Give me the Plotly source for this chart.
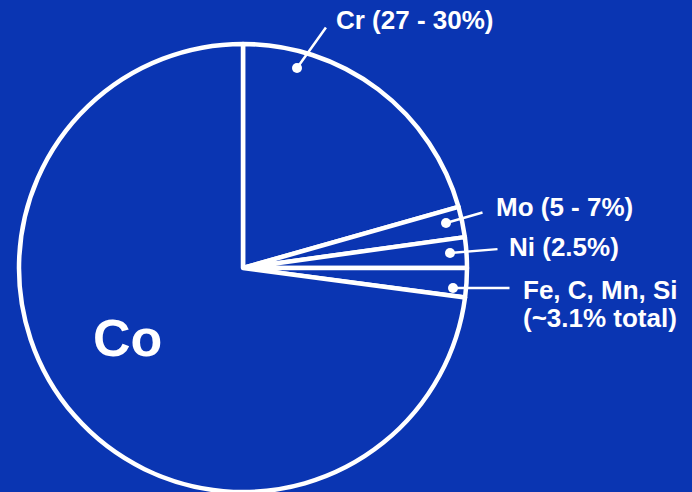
import plotly.graph_objects as go

W, H = 692, 492
BG = "#0A35B2"

elements = ["Cr", "Mo", "Ni", "Fe, C, Mn, Si", "Co"]
shares = [20.6, 2.2, 2.2, 2.1, 72.9]   # shares as drawn (angles)

label_texts = ["Cr (27 - 30%)", "Mo (5 - 7%)", "Ni (2.5%)", "Fe, C, Mn, Si", "(~3.1% total)", "Co"]
# label positions in pixels (left x, centre y)
label_pos = [(334, 20), (494, 207), (507, 247), (521, 290), (521, 318), (127, 338)]
# arrow heads (px) and tail offsets (px)
arrow_heads = [(297, 68), (446, 223), (450, 253), (453, 288)]
arrow_offsets = [(30, -42), (38, -11), (49, -4), (58, 0)]

fig = go.Figure(go.Pie(
    labels=elements, values=shares, sort=False, direction="clockwise",
    rotation=0, textinfo="none", hoverinfo="label+percent",
    marker=dict(colors=[BG] * len(elements), line=dict(color="white", width=4.5)),
    domain=dict(x=[19 / W, 467 / W], y=[0, 1 - 44 / H]),
    showlegend=False,
))

def px(x):
    return x / W

def py(y):
    return 1 - y / H

font = dict(family="Liberation Sans, Arial, sans-serif", size=26, color="white", weight="bold")
for t, (x, y) in zip(label_texts, label_pos):
    f = dict(font)
    if t == "Co":
        f["size"] = 52
        fig.add_annotation(x=px(x), y=py(y), xref="paper", yref="paper", text=t,
                           showarrow=False, xanchor="center", yanchor="middle", font=f)
    else:
        fig.add_annotation(x=px(x), y=py(y), xref="paper", yref="paper", text=t,
                           showarrow=False, xanchor="left", yanchor="middle", font=f)

for (hx, hy), (ax, ay) in zip(arrow_heads, arrow_offsets):
    fig.add_annotation(x=px(hx), y=py(hy), xref="paper", yref="paper", text="",
                       showarrow=True, ax=ax, ay=ay, arrowhead=6, arrowsize=1.0,
                       arrowwidth=2.5, arrowcolor="white", standoff=0, startstandoff=0)

fig.update_layout(
    width=W, height=H, margin=dict(l=0, r=0, t=0, b=0),
    paper_bgcolor=BG, plot_bgcolor=BG,
)

fig.write_html("out.html")
